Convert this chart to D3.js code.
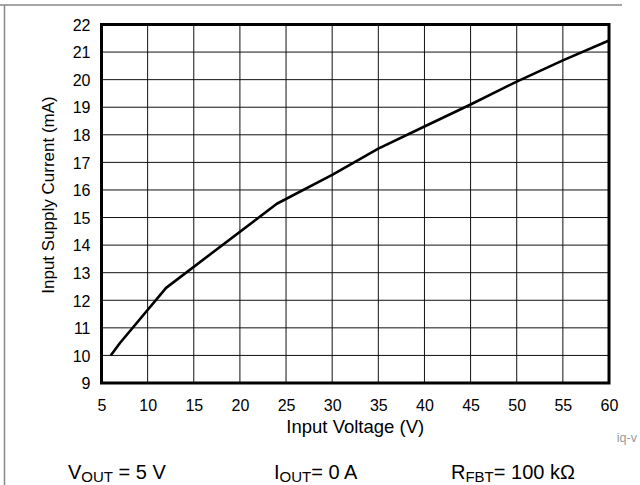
<!DOCTYPE html>
<html><head><meta charset="utf-8">
<script src="https://cdn.jsdelivr.net/npm/d3@7"></script>
<style>body{margin:0;background:#fff}svg{display:block;font-family:"Liberation Sans",Arial,sans-serif}</style>
</head><body>
<svg id="c" width="640" height="485"></svg>
<script>
const voltage = [6, 7, 12, 24, 30, 35, 40, 45, 50, 55, 60];
const current = [10, 10.45, 12.45, 15.5, 16.55, 17.5, 18.3, 19.1, 19.93, 20.7, 21.42];
const xTicks = [5, 10, 15, 20, 25, 30, 35, 40, 45, 50, 55, 60];
const yTicks = [9, 10, 11, 12, 13, 14, 15, 16, 17, 18, 19, 20, 21, 22];
const xTitle = "Input Voltage (V)";
const yTitle = "Input Supply Current (mA)";
const notes = [["V", "OUT", " = 5 V"], ["I", "OUT", "= 0 A"], ["R", "FBT", "= 100 kΩ"]];
const noteX = [68, 274, 451];

const svg = d3.select("#c");
const L = 101.5, R = 609, T = 24.5, B = 383;
const x = d3.scaleLinear().domain([5, 60]).range([L, R]);
const y = d3.scaleLinear().domain([9, 22]).range([B, T]);

// outer frame lines
svg.append("line").attr("x1", 0).attr("x2", 622).attr("y1", 5).attr("y2", 5).attr("stroke", "#888").attr("stroke-width", 1.5);
svg.append("line").attr("x1", 4.5).attr("x2", 4.5).attr("y1", 5).attr("y2", 485).attr("stroke", "#888").attr("stroke-width", 1.5);

// grid
svg.append("g").selectAll("line").data(xTicks.slice(1, -1)).join("line")
  .attr("x1", d => x(d)).attr("x2", d => x(d)).attr("y1", T).attr("y2", B)
  .attr("stroke", "#111").attr("stroke-width", 1);
svg.append("g").selectAll("line").data(yTicks.slice(1, -1)).join("line")
  .attr("y1", d => y(d)).attr("y2", d => y(d)).attr("x1", L).attr("x2", R)
  .attr("stroke", "#111").attr("stroke-width", 1);

// axes labels via d3 axes (no lines)
const xa = svg.append("g").attr("transform", `translate(0,${B})`)
  .call(d3.axisBottom(x).tickValues(xTicks).tickSize(0).tickPadding(0));
xa.select(".domain").remove();
xa.selectAll("text").attr("y", 28).attr("dy", 0).attr("font-size", 16).attr("fill", "#000").attr("font-family", "Liberation Sans, Arial, sans-serif");
const ya = svg.append("g").attr("transform", `translate(${L},0)`)
  .call(d3.axisLeft(y).tickValues(yTicks).tickSize(0).tickPadding(0));
ya.select(".domain").remove();
ya.selectAll("text").attr("x", -11).attr("dy", "0.36em").attr("font-size", 16).attr("fill", "#000").attr("font-family", "Liberation Sans, Arial, sans-serif");

// frame
svg.append("rect").attr("x", L).attr("y", T).attr("width", R - L).attr("height", B - T)
  .attr("fill", "none").attr("stroke", "#000").attr("stroke-width", 3);

// data line
svg.append("path").datum(voltage.map((v, i) => [v, current[i]]))
  .attr("fill", "none").attr("stroke", "#000").attr("stroke-width", 2.6).attr("stroke-linejoin", "round")
  .attr("d", d3.line().x(d => x(d[0])).y(d => y(d[1])));

// titles
svg.append("text").attr("x", (L + R) / 2).attr("y", 433).attr("text-anchor", "middle").attr("font-size", 18.5).text(xTitle);
svg.append("text").attr("transform", "translate(54,195) rotate(-90)").attr("text-anchor", "middle").attr("font-size", 17).text(yTitle);

svg.append("text").attr("x", 637).attr("y", 442).attr("text-anchor", "end").attr("font-size", 12.5).attr("fill", "#999").text("iq-v");

// bottom notes
notes.forEach((n, i) => {
  const t = svg.append("text").attr("x", noteX[i]).attr("y", 478.5).attr("font-size", 20);
  t.append("tspan").text(n[0]);
  t.append("tspan").attr("font-size", 15).attr("dy", 3.5).text(n[1]);
  t.append("tspan").attr("dy", -3.5).text(n[2]);
});
</script>
</body></html>
